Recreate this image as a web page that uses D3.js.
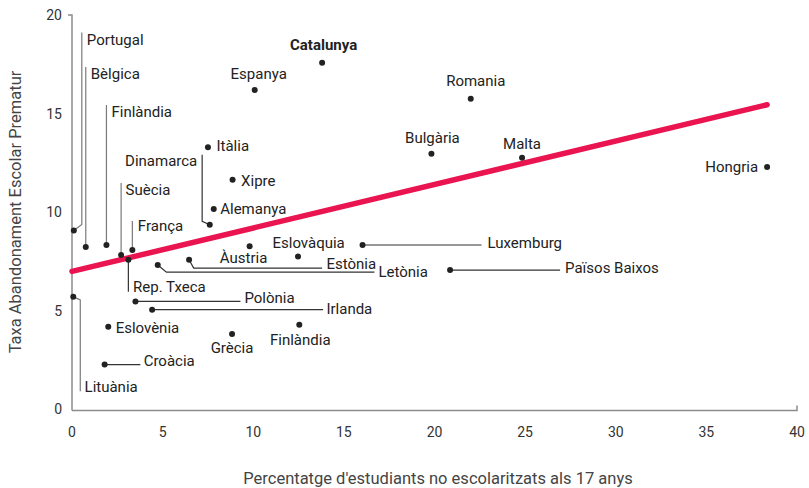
<!DOCTYPE html>
<html>
<head>
<meta charset="utf-8">
<script src="https://d3js.org/d3.v7.min.js"></script>
<style>
  body { margin: 0; background: #fff; }
  text { font-family: Roboto, "Noto Sans", sans-serif; }
</style>
</head>
<body>
<div id="chart"></div>
<script>
// data
const countries = ["Portugal", "Bèlgica", "Finlàndia", "Suècia", "França", "Rep. Txeca",
  "Dinamarca", "Alemanya", "Itàlia", "Xipre", "Espanya", "Catalunya", "Romania",
  "Bulgària", "Malta", "Hongria", "Luxemburg", "Eslovàquia", "Àustria", "Estònia",
  "Letònia", "Països Baixos", "Lituània", "Polònia", "Irlanda", "Eslovènia",
  "Grècia", "Finlàndia", "Croàcia"];
const notEnrolled17 = [0.1, 0.76, 1.9, 2.71, 3.33, 3.11, 7.6, 7.82, 7.5, 8.86, 10.08, 13.8, 22.0,
  19.83, 24.83, 38.35, 16.03, 12.47, 9.8, 6.46, 4.73, 20.86, 0.07, 3.5, 4.42, 2.0, 8.83, 12.54, 1.8];
const earlyLeaving = [9.08, 8.24, 8.34, 7.83, 8.09, 7.59, 9.37, 10.16, 13.3, 11.65, 16.2, 17.58, 15.75,
  12.96, 12.76, 12.29, 8.34, 7.76, 8.27, 7.59, 7.33, 7.07, 5.71, 5.48, 5.06, 4.19, 3.83, 4.3, 2.28];
const trendX = [0, 38.35];
const trendY = [7.0, 15.45];
const xTicks = [0, 5, 10, 15, 20, 25, 30, 35, 40];
const yTicks = [0, 5, 10, 15, 20];

// label placement (pixel offsets from each dot)
const labelLayout = [
  { dx: 13, dy: -191, anchor: "start", leader: [[8, -6], [8, -198]], grey: true },
  { dx: 5, dy: -173, anchor: "start", leader: [[0, -180]], grey: true },
  { dx: 5, dy: -133, anchor: "start", leader: [[0, -140]], grey: true },
  { dx: 4.5, dy: -65, anchor: "start", leader: [[0, -72]], grey: true },
  { dx: 5.5, dy: -24, anchor: "start", leader: [[0, -29]], grey: true },
  { dx: 4.7, dy: 27, anchor: "start", leader: [[0, 32]] },
  { dx: -12.5, dy: -64, anchor: "end", leader: [[-7.6, -3.3], [-7.6, -70]] },
  { dx: 6.5, dy: 0, anchor: "start" },
  { dx: 8.5, dy: -1, anchor: "start" },
  { dx: 8.5, dy: 1, anchor: "start" },
  { dx: 4, dy: -16, anchor: "middle" },
  { dx: 1.5, dy: -18, anchor: "middle", bold: true },
  { dx: 5, dy: -18, anchor: "middle" },
  { dx: 1, dy: -16, anchor: "middle" },
  { dx: 0, dy: -14, anchor: "middle" },
  { dx: -9, dy: 0, anchor: "end" },
  { dx: 125, dy: -2, anchor: "start", leader: [[119, 0]] },
  { dx: 10.6, dy: -13.4, anchor: "middle" },
  { dx: -6, dy: 11.6, anchor: "middle" },
  { dx: 137.3, dy: 4, anchor: "start", leader: [[4.6, 8.3], [133, 8.3]] },
  { dx: 220.7, dy: 6.7, anchor: "start", leader: [[8.7, 7.3], [216.7, 7.3]] },
  { dx: 115, dy: -2, anchor: "start", leader: [[110, 0]] },
  { dx: 11.3, dy: 89.4, anchor: "start", leader: [[7, 3], [7, 94.4]], grey: true },
  { dx: 109, dy: -3.4, anchor: "start", leader: [[105, 0]] },
  { dx: 174.3, dy: -0.7, anchor: "start", leader: [[171, 0]] },
  { dx: 7.4, dy: 1, anchor: "start" },
  { dx: 0, dy: 13.4, anchor: "middle" },
  { dx: 1, dy: 15, anchor: "middle" },
  { dx: 39, dy: -4, anchor: "start", leader: [[35.7, 0]] }
];

const width = 809, height = 488;

const svg = d3.select("#chart").append("svg")
  .attr("width", width)
  .attr("height", height);

const x = d3.scaleLinear().domain([0, 40]).range([72, 797]);
const y = d3.scaleLinear().domain([0, 20]).range([409.5, 15]);

const axisColor = "#8c8c8c";

// y axis: line plus outer tick at the top
svg.append("path")
  .attr("d", `M${x(0) - 4},${y(20)}H${x(0)}V${y(0) + 1}`)
  .attr("fill", "none")
  .attr("stroke", axisColor)
  .attr("stroke-width", 1.5);

// x axis: line plus small upward tick at the end
svg.append("path")
  .attr("d", `M${x(0)},${y(0) + 1}H${x(40)}V${y(0) - 4}`)
  .attr("fill", "none")
  .attr("stroke", axisColor)
  .attr("stroke-width", 1.5);

svg.append("g").selectAll("text")
  .data(yTicks)
  .join("text")
  .attr("x", x(0) - 10)
  .attr("y", d => y(d))
  .attr("dy", "0.35em")
  .attr("text-anchor", "end")
  .attr("font-size", 14)
  .attr("fill", "#333")
  .text(d => d);

svg.append("g").selectAll("text")
  .data(xTicks)
  .join("text")
  .attr("x", d => x(d))
  .attr("y", 432)
  .attr("dy", "0.35em")
  .attr("text-anchor", "middle")
  .attr("font-size", 14)
  .attr("fill", "#333")
  .text(d => d);

// axis titles
svg.append("text")
  .attr("transform", "translate(15,212) rotate(-90)")
  .attr("dy", "0.35em")
  .attr("text-anchor", "middle")
  .attr("font-size", 16.5)
  .attr("fill", "#444")
  .text("Taxa Abandonament Escolar Prematur");

svg.append("text")
  .attr("x", 438)
  .attr("y", 478)
  .attr("dy", "0.35em")
  .attr("text-anchor", "middle")
  .attr("font-size", 16.5)
  .attr("fill", "#444")
  .text("Percentatge d'estudiants no escolaritzats als 17 anys");

// trend line
svg.append("path")
  .datum(trendX.map((d, i) => [d, trendY[i]]))
  .attr("d", d3.line().x(d => x(d[0])).y(d => y(d[1])))
  .attr("fill", "none")
  .attr("stroke", "#ea1450")
  .attr("stroke-width", 5.5)
  .attr("stroke-linecap", "round");

const points = countries.map((name, i) => ({
  name: name,
  px: x(notEnrolled17[i]),
  py: y(earlyLeaving[i]),
  lay: labelLayout[i]
}));

// leader lines
svg.append("g").selectAll("path")
  .data(points.filter(d => d.lay.leader))
  .join("path")
  .attr("d", d => d3.line()([[d.px, d.py]].concat(d.lay.leader.map(o => [d.px + o[0], d.py + o[1]]))))
  .attr("fill", "none")
  .attr("stroke", d => d.lay.grey ? "#7a7a7a" : "#333")
  .attr("stroke-width", 1.2);

// dots
svg.append("g").selectAll("circle")
  .data(points)
  .join("circle")
  .attr("cx", d => d.px)
  .attr("cy", d => d.py)
  .attr("r", 3)
  .attr("fill", "#222");

// labels
svg.append("g").selectAll("text")
  .data(points)
  .join("text")
  .attr("x", d => d.px + d.lay.dx)
  .attr("y", d => d.py + d.lay.dy)
  .attr("dy", "0.35em")
  .attr("text-anchor", d => d.lay.anchor)
  .attr("font-size", 15)
  .attr("font-weight", d => d.lay.bold ? "bold" : "normal")
  .attr("fill", "#222")
  .text(d => d.name);
</script>
</body>
</html>
